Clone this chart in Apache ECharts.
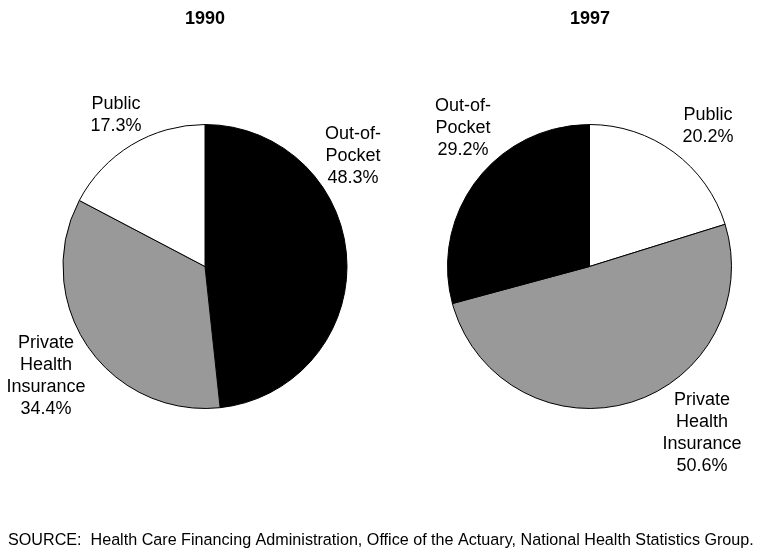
<!DOCTYPE html>
<html>
<head>
<meta charset="utf-8">
<script src="https://cdn.jsdelivr.net/npm/echarts@6/dist/echarts.min.js"></script>
<style>
html,body{margin:0;padding:0;background:#fff;}
#c{width:762px;height:554px;}
</style>
</head>
<body>
<div id="c"></div>
<script>
// Data
const years = ["1990", "1997"];
const categories1990 = ["Out-of-Pocket", "Private Health Insurance", "Public"];
const values1990 = [48.3, 34.4, 17.3];
const categories1997 = ["Public", "Private Health Insurance", "Out-of-Pocket"];
const values1997 = [20.2, 50.6, 29.2];
const sourceText = "SOURCE:  Health Care Financing Administration, Office of the Actuary, National Health Statistics Group.";

const labelText = {
  "Out-of-Pocket": "Out-of-\nPocket",
  "Private Health Insurance": "Private\nHealth\nInsurance",
  "Public": "Public"
};
const colors = {
  "Out-of-Pocket": "#000000",
  "Private Health Insurance": "#999999",
  "Public": "#ffffff"
};

// Label placement (layout, not data)
const labelPos = [
  { "Out-of-Pocket": [353, 156], "Private Health Insurance": [46, 376], "Public": [116, 115] },
  { "Out-of-Pocket": [463, 128.5], "Private Health Insurance": [702, 433], "Public": [708, 126] }
];

function buildData(cats, vals) {
  return cats.map((c, i) => ({ name: c, value: vals[i], itemStyle: { color: colors[c] } }));
}

const chart = echarts.init(document.getElementById('c'));
const font = '"Liberation Sans", Arial, sans-serif';

function pieSeries(idx, cats, vals, cx) {
  return {
    type: 'pie',
    center: [cx, 266.5],
    radius: 142,
    startAngle: 90,
    clockwise: true,
    animation: false,
    silent: true,
    avoidLabelOverlap: false,
    data: buildData(cats, vals),
    itemStyle: { borderColor: '#000', borderWidth: 1 },
    label: {
      show: true,
      position: 'outside',
      overflow: 'none',
      formatter: p => labelText[p.name] + '\n' + p.value.toFixed(1) + '%',
      fontFamily: font,
      fontSize: 18,
      lineHeight: 22,
      color: '#000',
      align: 'center'
    },
    labelLine: { show: false },
    labelLayout: function (params) {
      const name = cats[params.dataIndex];
      const pos = labelPos[idx][name];
      return { x: pos[0], y: pos[1], align: 'center', verticalAlign: 'middle' };
    },
    emphasis: { disabled: true }
  };
}

chart.setOption({
  backgroundColor: '#fff',
  title: [
    { text: years[0], left: 205, top: 10, padding: 0, textAlign: 'center',
      textStyle: { fontFamily: font, fontSize: 18, fontWeight: 'bold', color: '#000' } },
    { text: years[1], left: 590, top: 10, padding: 0, textAlign: 'center',
      textStyle: { fontFamily: font, fontSize: 18, fontWeight: 'bold', color: '#000' } },
    { text: sourceText, left: 8, top: 533, padding: 0,
      textStyle: { fontFamily: font, fontSize: 16.15, fontWeight: 'normal', color: '#000' } }
  ],
  series: [
    pieSeries(0, categories1990, values1990, 205),
    pieSeries(1, categories1997, values1997, 589.5)
  ]
});
</script>
</body>
</html>
